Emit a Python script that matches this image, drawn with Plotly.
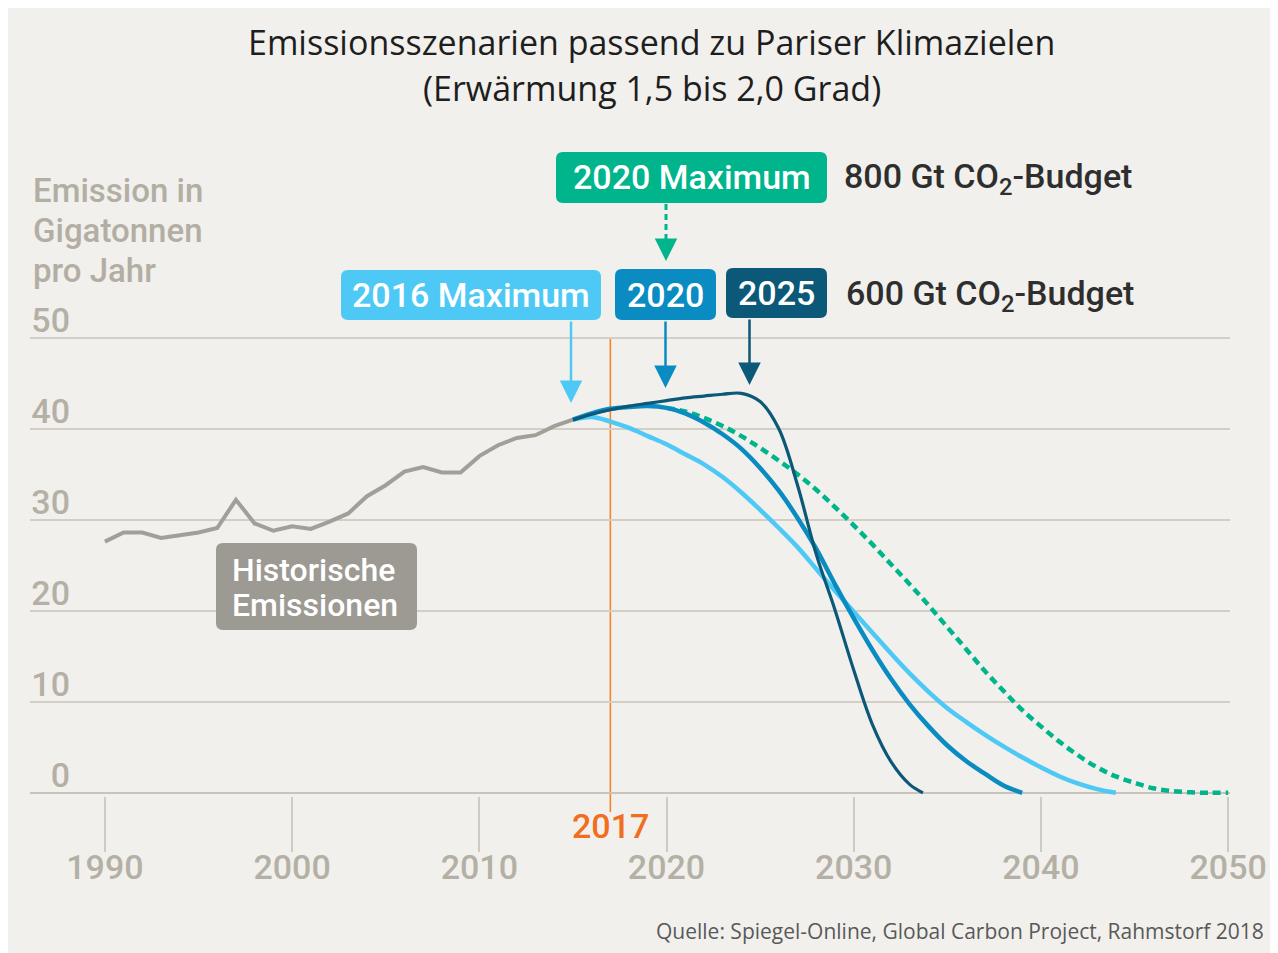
import plotly.graph_objects as go

# ---------------- data ----------------
hist_years = list(range(1990, 2016))
hist_values = [27.6, 28.6, 28.6, 28.0, 28.3, 28.6, 29.1, 32.2, 29.6, 28.8,
               29.3, 29.0, 29.8, 30.7, 32.6, 33.8, 35.3, 35.8, 35.2, 35.2,
               37.0, 38.2, 39.0, 39.3, 40.3, 41.0]

max2016_years = list(range(2015, 2045))
max2016_values = [41.0, 41.3, 40.8, 40.1, 39.2, 38.3, 37.2, 36.1, 34.7, 33.0,
                  31.1, 29.1, 27.0, 24.6, 22.2, 19.9, 17.6, 15.3, 13.1, 11.1,
                  9.3, 7.8, 6.4, 5.1, 3.9, 2.8, 1.8, 1.0, 0.4, 0.0]

max2020_years = list(range(2015, 2040))
max2020_values = [41.0, 41.7, 42.2, 42.4, 42.5, 42.3, 41.7, 40.7, 39.4, 37.8,
                  35.7, 33.2, 30.2, 26.8, 22.9, 19.2, 15.7, 12.5, 9.7, 7.3,
                  5.2, 3.5, 2.1, 0.8, 0.0]

max2025_years = [2015, 2016, 2017, 2018, 2019, 2020, 2021, 2022, 2023, 2024,
                 2025, 2026, 2027, 2028, 2029, 2030, 2031, 2032, 2033, 2033.7]
max2025_values = [41.0, 41.6, 42.1, 42.5, 42.8, 43.1, 43.4, 43.6, 43.8, 43.9,
                  43.0, 40.0, 33.8, 26.2, 20.1, 13.5, 7.5, 3.4, 0.9, 0.0]

budget800_years = list(range(2020, 2051))
budget800_values = [42.3, 41.9, 41.2, 40.3, 39.2, 37.9, 36.5, 35.0, 33.3, 31.4,
                    29.4, 27.3, 25.1, 22.9, 20.6, 18.2, 15.8, 13.4, 11.2, 9.1,
                    7.3, 5.6, 4.1, 2.8, 1.8, 1.1, 0.5, 0.2, 0.05, 0.0, 0.0]

x_ticks = [1990, 2000, 2010, 2020, 2030, 2040, 2050]
y_ticks = [0, 10, 20, 30, 40, 50]
marker_year = 2017

title_lines = ["Emissionsszenarien passend zu Pariser Klimazielen",
               "(Erwärmung 1,5 bis 2,0 Grad)"]
ylabel_lines = ["Emission in", "Gigatonnen", "pro Jahr"]
source_text = "Quelle: Spiegel-Online, Global Carbon Project, Rahmstorf 2018"

# ---------------- styling ----------------
BG = "#f1f0ec"
GRID = "#d3cfc6"
TICKTXT = "#b5b0a6"
C_HIST = "#a39f98"
C_HISTBOX = "#9d9993"
C_LIGHT = "#4ec9f5"
C_MED = "#0a8bc2"
C_DARK = "#0b5878"
C_GREEN = "#00b48c"
C_ORANGE = "#f5842a"
LABEL_FONT = "Roboto, Liberation Sans, sans-serif"
TITLE_FONT = "Open Sans, Lato, sans-serif"

# the page body adds an 8px margin; the figure is sized/offset to compensate
OFF = 8
W, H = 1278 - OFF, 953 - OFF
ML, MR, MT, MB = 30 - OFF, 48, 336 - OFF, 157
PL, PR, PT, PB = ML, W - MR, MT, H - MB


def X(p):  # page pixel x -> paper
    return (p - OFF - PL) / (PR - PL)


def Y(p):  # page pixel y -> paper
    return (PB - (p - OFF)) / (PB - PT)


def P(xp, yp):
    return f"{X(xp):.5f},{Y(yp):.5f}"


def rrect(x0, y0, x1, y1, r=7):
    return (f"M{P(x0 + r, y0)} L{P(x1 - r, y0)} Q{P(x1, y0)} {P(x1, y0 + r)} "
            f"L{P(x1, y1 - r)} Q{P(x1, y1)} {P(x1 - r, y1)} "
            f"L{P(x0 + r, y1)} Q{P(x0, y1)} {P(x0, y1 - r)} "
            f"L{P(x0, y0 + r)} Q{P(x0, y0)} {P(x0 + r, y0)} Z")


fig = go.Figure()
fig.add_trace(go.Scatter(x=hist_years, y=hist_values, mode="lines",
                         line=dict(color=C_HIST, width=4), hoverinfo="skip"))
fig.add_trace(go.Scatter(x=budget800_years, y=budget800_values, mode="lines",
                         line=dict(color=C_GREEN, width=4.5, dash="8px,5px", shape="spline"),
                         hoverinfo="skip"))
fig.add_trace(go.Scatter(x=max2016_years, y=max2016_values, mode="lines",
                         line=dict(color=C_LIGHT, width=4.5, shape="spline"), hoverinfo="skip"))
fig.add_trace(go.Scatter(x=max2020_years, y=max2020_values, mode="lines",
                         line=dict(color=C_MED, width=4.5, shape="spline"), hoverinfo="skip"))
fig.add_trace(go.Scatter(x=max2025_years, y=max2025_values, mode="lines",
                         line=dict(color=C_DARK, width=3.2, shape="spline"), hoverinfo="skip"))

shapes = []
# 2017 marker line
shapes.append(dict(type="line", xref="x", yref="paper", x0=marker_year, x1=marker_year,
                   y0=Y(812), y1=Y(338), line=dict(color=C_ORANGE, width=1.6), layer="between"))
# label boxes
for (x0, y0, x1, y1, col) in [(341, 270, 601, 320, C_LIGHT), (615, 269, 716, 320, C_MED),
                              (726, 268, 827, 318, C_DARK), (556, 152, 827, 203, C_GREEN),
                              (216, 543, 417, 630, C_HISTBOX)]:
    shapes.append(dict(type="path", xref="paper", yref="paper", path=rrect(x0, y0, x1, y1),
                       fillcolor=col, line_width=0, layer="above"))
# green dashed arrow shaft
shapes.append(dict(type="line", xref="paper", yref="paper", x0=X(666), x1=X(666), y0=Y(204), y1=Y(243),
                   line=dict(color=C_GREEN, width=3, dash="6px,4px")))

ann = []


def text(t, xp, yp, size, color, family=LABEL_FONT, xanchor="center", yanchor="middle", weight=None):
    f = dict(size=size, color=color, family=family)
    if weight:
        f["weight"] = weight
    ann.append(dict(text=t, xref="paper", yref="paper", x=X(xp), y=Y(yp), showarrow=False,
                    xanchor=xanchor, yanchor=yanchor, font=f))


def arrow(xp, tip, tail, col):
    ann.append(dict(text="", xref="paper", yref="paper", x=X(xp), y=Y(tip), ax=0, ay=-(tip - tail),
                    showarrow=True, arrowhead=2, arrowsize=1.8, arrowwidth=2.5, arrowcolor=col))


text(title_lines[0], 651, 42, 34, "#1e1e1e", TITLE_FONT)
text(title_lines[1], 652, 88, 34, "#1e1e1e", TITLE_FONT)
for t, yy in zip(ylabel_lines, [190, 230, 270]):
    text(t, 31, yy, 33, "#b3aea3", xanchor="left", weight=500)

text("2016 Maximum", 471, 295, 34, "white", weight=500)
text("2020", 665.5, 295, 34, "white", weight=500)
text("2025", 776.5, 293, 34, "white", weight=500)
text("2020 Maximum", 691.5, 177, 34, "white", weight=500)
text("800 Gt CO<sub>2</sub>-Budget", 842, 178, 34, "#2e2e2e", xanchor="left", weight=500)
text("600 Gt CO<sub>2</sub>-Budget", 844, 295, 34, "#2e2e2e", xanchor="left", weight=500)
text("Historische", 230, 570, 32, "white", xanchor="left", weight=500)
text("Emissionen", 230, 605, 32, "white", xanchor="left", weight=500)
ann.append(dict(text=str(marker_year), xref="x", yref="paper", x=marker_year, y=Y(826),
                showarrow=False, xanchor="center", yanchor="middle",
                font=dict(size=34, color="#f26d1e", family=LABEL_FONT, weight=500)))
text(source_text, 1266, 931, 21, "#595959", "Open Sans, Lato, sans-serif", xanchor="right")

arrow(571, 403, 320, C_LIGHT)
arrow(665.5, 388, 320, C_MED)
arrow(749.5, 385, 318, C_DARK)
arrow(666, 261, 240, C_GREEN)

fig.update_layout(
    width=W, height=H, autosize=False,
    margin=dict(l=ML, r=MR, t=MT, b=MB, pad=0),
    paper_bgcolor=BG, plot_bgcolor=BG, showlegend=False,
    shapes=shapes, annotations=ann,
    xaxis=dict(range=[1986, 2050.1], tickvals=x_ticks, ticktext=[str(v) for v in x_ticks],
               ticks="outside", ticklen=55, tickwidth=1.5, tickcolor="#cfcbc3",
               ticklabelstandoff=-14,
               showgrid=False, zeroline=False, showline=False,
               tickfont=dict(size=34, color=TICKTXT, family=LABEL_FONT, weight=500), fixedrange=True),
    yaxis=dict(range=[-0.35, 50.2], tickvals=y_ticks, ticktext=[str(v) for v in y_ticks],
               showgrid=True, gridcolor=GRID, gridwidth=2,
               zeroline=True, zerolinecolor="#c8c4bb", zerolinewidth=2,
               showline=False, ticks="", anchor="free", position=X(70),
               ticklabelshift=-18,
               tickfont=dict(size=34, color=TICKTXT, family=LABEL_FONT, weight=500), fixedrange=True),
)

fig.write_html("out.html")
